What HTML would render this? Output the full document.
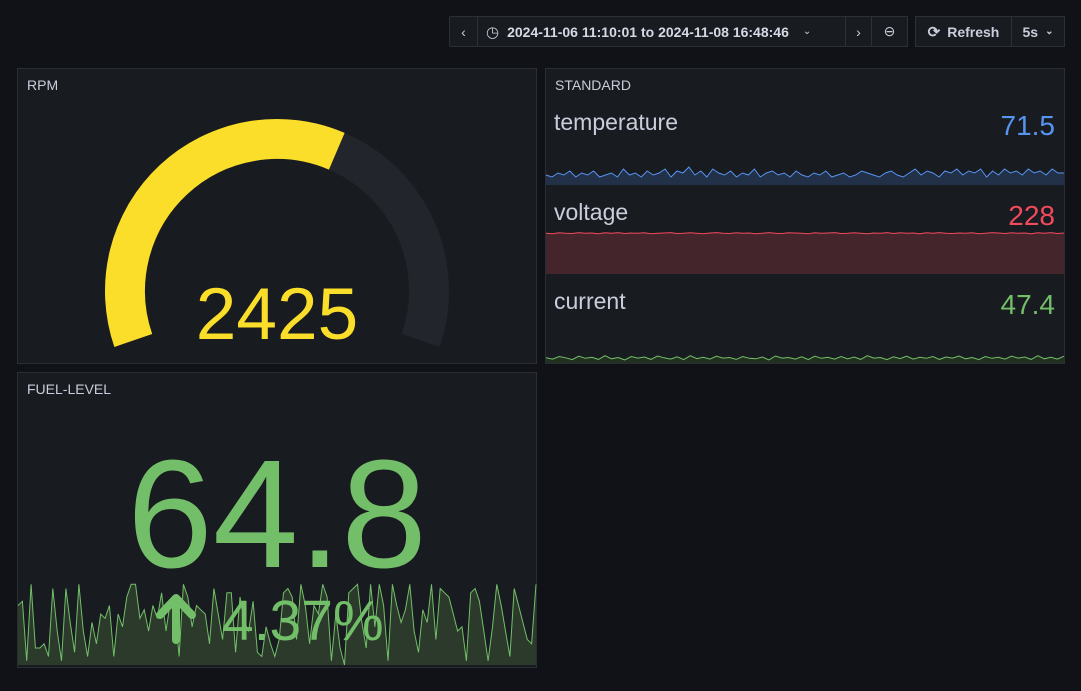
<!DOCTYPE html>
<html><head><meta charset="utf-8">
<style>
body{margin:0;width:1081px;height:691px;background:#111217;font-family:"Liberation Sans",sans-serif;overflow:hidden;position:relative;color:#ccccdc}
.btn{position:absolute;top:16px;height:31px;background:#181b1f;border:1px solid #2c3037;box-sizing:border-box;display:flex;align-items:center;justify-content:center;font-size:14px;color:#ccccdc}
.panel{position:absolute;background:#181b1f;border:1px solid #2a2d33;box-sizing:border-box}
.ptitle{position:absolute;left:9px;top:8px;font-size:14px;color:#ccccdc}
svg{position:absolute;left:0;top:0}
</style></head><body>
<div class="btn" style="left:449px;width:29px;border-radius:2px 0 0 2px">‹</div>
<div class="btn" style="left:477px;width:369px;justify-content:flex-start;padding-left:8px"><span style="font-size:15px;margin-right:8px">◷</span><span style="color:#d8d9e6;font-weight:bold">2024-11-06 11:10:01 to 2024-11-08 16:48:46</span><span style="margin-left:14px;font-size:10px">⌄</span></div>
<div class="btn" style="left:845px;width:27px">›</div>
<div class="btn" style="left:871px;width:37px">⊖</div>
<div class="btn" style="left:915px;width:97px;font-weight:bold"><span style="margin-right:7px;font-size:15px">⟳</span>Refresh</div>
<div class="btn" style="left:1011px;width:54px;font-weight:bold">5s <span style="margin-left:7px;font-size:10px">⌄</span></div>

<div class="panel" style="left:17px;top:68px;width:520px;height:296px"><div class="ptitle">RPM</div></div>
<div class="panel" style="left:545px;top:68px;width:520px;height:296px"><div class="ptitle">STANDARD</div></div>
<div class="panel" style="left:17px;top:372px;width:520px;height:296px"><div class="ptitle">FUEL-LEVEL</div></div>

<svg id="s" width="1081" height="691"></svg>
<script>
const rpmValue=2425, rpmMin=0, rpmMax=4000;
const temperature=[71,70,72,71,73,70,72,71,73,70,71,72,70,74,71,72,70,73,71,72,74,70,73,72,75,71,73,70,74,72,71,73,70,72,71,74,70,72,73,71,72,70,73,71,70,72,71,73,70,71,72,70,71,73,72,71,70,72,73,71,70,72,74,71,73,72,70,73,72,74,71,73,72,74,70,73,71,74,72,73,71,74,72,73,71,74,72,72];
const voltage=[228,227.8,228.2,228,227.9,228.3,228,228.1,227.8,228.2,228,228.3,227.9,228.1,228,228.2,227.8,228,228.1,228.3,227.9,228,228.2,228,227.8,228.1,228.3,228,227.9,228.2,228,228.1,227.8,228,228.3,228,227.9,228.2,228.1,228,227.8,228.2,228,228.1,228.3,227.9,228,228.2,228,227.8,228.1,228,228.3,227.9,228.2,228,228.1,227.8,228.2,228,228.3,228,227.9,228.1,228,228.2,227.8,228,228.3,228.1,227.9,228.2,228,228.1,227.8,228.2,228,228.3,227.9,228.1];
const current=[47,46.5,47.5,47,46.3,47.6,46.8,47.2,46.4,47.8,46.6,47.1,46.2,47.5,46.9,47.3,46.4,47.7,47,46.5,47.4,46.3,47.8,46.7,47.2,46.5,47.6,46.9,47.1,46.4,47.5,46.8,46.6,47.3,46.2,47.7,46.9,47.1,46.5,47.4,46.3,47.6,46.8,47.2,46.5,47.5,46.6,47.3,46.4,47.8,46.9,47.1,46.3,47.4,46.7,47.6,46.5,47.2,46.8,47.5,46.4,47.3,46.9,47.7,46.6,47.1,46.3,47.5,46.8,47.2,46.5,47.6,46.9,47.3,46.4,47.8,46.6,47.2,46.5,47.6];
const fuel=[70,75,5,95,20,20,25,10,90,40,5,90,50,15,95,40,10,50,25,60,55,70,10,60,45,80,95,95,55,65,40,70,55,85,40,75,70,10,95,80,45,70,65,60,25,90,60,30,85,85,15,80,50,40,75,15,10,45,25,10,30,85,90,80,30,95,70,25,70,60,95,80,5,60,20,0,85,90,95,50,20,95,45,95,70,5,95,70,50,65,95,40,15,65,50,95,30,90,85,80,60,40,45,5,85,90,75,40,5,45,95,70,40,10,90,70,50,30,25,95];
const fuelValue="64.8", fuelDelta="4.37%";
const stats=[{name:'temperature',value:'71.5',color:'#5794f2',fill:'#223048',data:temperature,lo:66,hi:76,top:95,y0:165,y1:185},
{name:'voltage',value:'228',color:'#f2495c',fill:'#44252b',data:voltage,lo:210,hi:229,top:185,y0:231,y1:274},
{name:'current',value:'47.4',color:'#73bf69',fill:'#22311f',data:current,lo:45,hi:50,top:274,y0:350,y1:363}];
const S=document.getElementById('s');const NS='http://www.w3.org/2000/svg';
function mk(t,a){const e=document.createElementNS(NS,t);for(const k in a)e.setAttribute(k,a[k]);S.appendChild(e);return e;}
const cx=277,cy=291,r=152,sw=40,a0=199,span=218;
function pt(deg){const a=deg*Math.PI/180;return [cx+r*Math.cos(a),cy-r*Math.sin(a)];}
function arc(d0,d1){const p=pt(d0),q=pt(d1);const large=(d0-d1)>180?1:0;return `M${p[0]},${p[1]} A${r},${r} 0 ${large} 1 ${q[0]},${q[1]}`;}
const frac=(rpmValue-rpmMin)/(rpmMax-rpmMin), aEnd=a0-span*frac;
let e=mk('path',{d:arc(a0,a0-span),stroke:'#22252b','stroke-width':sw,fill:'none'});

e=mk('path',{d:arc(a0,aEnd),stroke:'#fade2a','stroke-width':sw,fill:'none'});

e=mk('text',{x:cx,y:339,'text-anchor':'middle','font-size':73,fill:'#fade2a','font-family':'Liberation Sans, sans-serif'});e.textContent=rpmValue;

function spark(data,lo,hi,x0,x1,y0,y1,color,fill,name){
 const X=i=>x0+(x1-x0)*i/(data.length-1), Y=v=>y1-(y1-y0)*(v-lo)/(hi-lo);
 let d=data.map((v,i)=>(i?'L':'M')+X(i).toFixed(1)+','+Y(v).toFixed(1)).join('');
 let f=mk('path',{d:d+`L${x1},${y1}L${x0},${y1}Z`,fill:fill});
 
 let l=mk('path',{d:d,fill:'none',stroke:color,'stroke-width':1});
 
}
stats.forEach(s=>{
 spark(s.data,s.lo,s.hi,546,1064,s.y0,s.y1,s.color,s.fill,s.name);
 let t=mk('text',{x:554,y:s.top+35,'font-size':23,fill:'#ccccdc'});t.textContent=s.name;
 
 t=mk('text',{x:1055,y:s.top+40,'font-size':28,fill:s.color,'text-anchor':'end'});t.textContent=s.value;
 
});
spark(fuel,0,100,18,536,580,665,'#73bf69','#2b3a2b','fuel-level');
e=mk('text',{x:277,y:567,'text-anchor':'middle','font-size':154,fill:'#73bf69'});e.textContent=fuelValue;

e=mk('path',{d:'M176,640 L176,600 M160,615 L176,598 L192,615',stroke:'#73bf69','stroke-width':8,'stroke-linecap':'round','stroke-linejoin':'round',fill:'none'});

e=mk('text',{x:222,y:640,'font-size':57,fill:'#73bf69'});e.textContent=fuelDelta;

</script>
</body></html>
